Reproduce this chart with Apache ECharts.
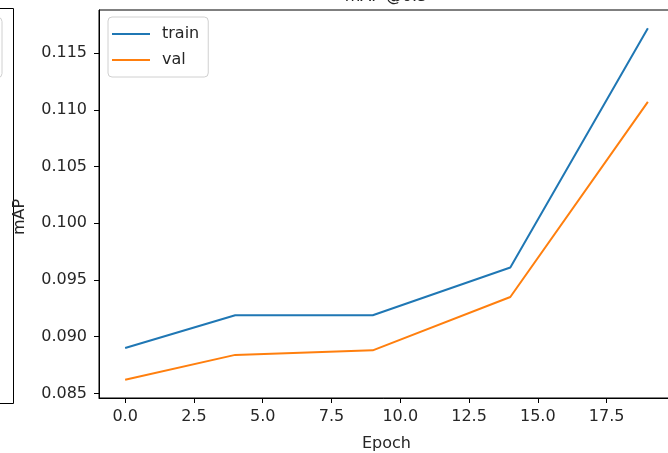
<!DOCTYPE html>
<html>
<head>
<meta charset="utf-8">
<script src="https://cdn.jsdelivr.net/npm/echarts@6/dist/echarts.min.js"></script>
<style>
  html, body { margin: 0; padding: 0; background: #fff; }
  #chart { width: 668px; height: 453px; }
</style>
</head>
<body>
<div id="chart"></div>
<script>
// Epochs at which mAP was evaluated
const epochs = [0, 4, 9, 14, 19];
// mAP per split
const trainMAP = [0.0890, 0.0919, 0.0919, 0.0961, 0.1172];
const valMAP = [0.0862, 0.0884, 0.0888, 0.0935, 0.1107];
// Tick positions
const xTicks = [0, 2.5, 5, 7.5, 10, 12.5, 15, 17.5];
const yTicks = [0.085, 0.090, 0.095, 0.100, 0.105, 0.110, 0.115];

const FONT = 'DejaVu Sans';
const TEXT = '#262626';

const chart = echarts.init(document.getElementById('chart'), null, { renderer: 'canvas' });

const pairs = (xs, ys) => xs.map((x, i) => [x, ys[i]]);

chart.setOption({
  animation: false,
  backgroundColor: '#fff',
  textStyle: { fontFamily: FONT },
  grid: {
    left: 99, top: 10, width: 575, height: 388,
    outerBoundsMode: 'none',
    show: true, borderColor: '#000', borderWidth: 1, backgroundColor: 'transparent'
  },
  legend: {
    orient: 'vertical',
    left: 108, top: 17,
    padding: [9, 9, 9, 4],
    itemGap: 10,
    itemWidth: 38, itemHeight: 2,
    icon: 'rect',
    borderColor: '#d0d0d0', borderWidth: 1, borderRadius: 4,
    backgroundColor: '#fff',
    textStyle: { fontFamily: FONT, fontSize: 16, color: TEXT, lineHeight: 16, padding: [0, 0, 0, 7] },
    data: ['train', 'val']
  },
  xAxis: {
    type: 'value',
    min: -0.95, max: 19.95,
    name: 'Epoch',
    nameLocation: 'middle',
    nameGap: 38,
    nameTextStyle: { fontFamily: FONT, fontSize: 16, color: TEXT },
    axisLine: { show: true, onZero: false, lineStyle: { color: '#000', width: 1 } },
    axisTick: { show: true, length: 5, customValues: xTicks, lineStyle: { color: '#000' } },
    axisLabel: {
      customValues: xTicks, margin: 11, fontFamily: FONT, fontSize: 16, color: TEXT,
      formatter: v => Number(v).toFixed(1)
    },
    splitLine: { show: false }
  },
  yAxis: {
    type: 'value',
    min: 0.0846, max: 0.1188,
    axisLine: { show: true, onZero: false, lineStyle: { color: '#000', width: 1 } },
    axisTick: { show: true, length: 5, customValues: yTicks, lineStyle: { color: '#000' } },
    axisLabel: {
      customValues: yTicks, margin: 12, fontFamily: FONT, fontSize: 16, color: TEXT,
      formatter: v => Number(v).toFixed(3)
    },
    splitLine: { show: false }
  },
  series: [
    {
      name: 'train', type: 'line', data: pairs(epochs, trainMAP),
      showSymbol: false, color: '#1f77b4', lineStyle: { width: 2, color: '#1f77b4' }
    },
    {
      name: 'val', type: 'line', data: pairs(epochs, valMAP),
      showSymbol: false, color: '#ff7f0e', lineStyle: { width: 2, color: '#ff7f0e' }
    }
  ],
  graphic: [
    // panel title, centred over the plot area and mostly above the visible edge
    {
      type: 'text', x: 386, y: -11, z: 10,
      style: { text: 'mAP @0.5', font: '16px "DejaVu Sans"', fill: TEXT, align: 'center', verticalAlign: 'top' }
    },
    // y-axis title
    {
      type: 'text', z: 10, x: 20, y: 217, rotation: Math.PI / 2,
      style: { text: 'mAP', font: '16px "DejaVu Sans"', fill: TEXT, align: 'center', verticalAlign: 'middle' }
    },
    // neighbouring panel's frame edge
    {
      type: 'rect', z: 5,
      shape: { x: -100, y: 8.5, width: 113.5, height: 395 },
      style: { fill: 'none', stroke: '#000', lineWidth: 1 }
    },
    // neighbouring panel's legend frame edge
    {
      type: 'rect', z: 5,
      shape: { x: -100, y: 17.5, width: 102, height: 60, r: 4 },
      style: { fill: 'none', stroke: '#d0d0d0', lineWidth: 1 }
    }
  ]
});
</script>
</body>
</html>
